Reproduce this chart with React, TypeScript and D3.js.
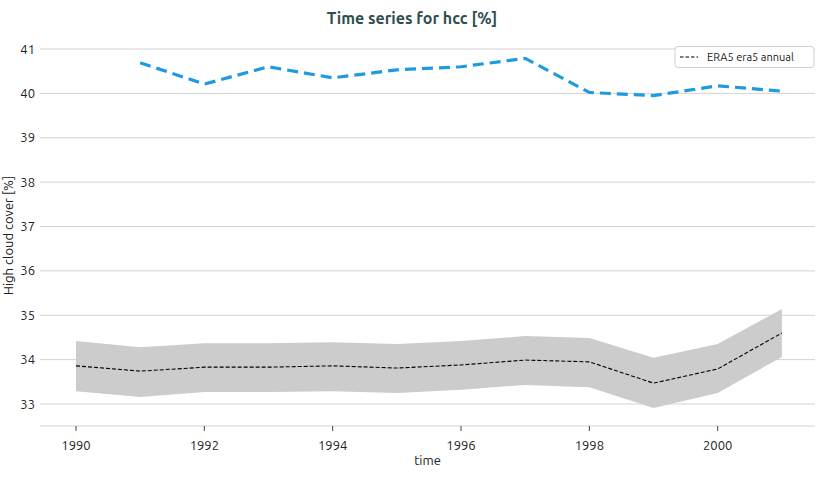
import React from "react";
import * as d3 from "d3";

const years = [1990, 1991, 1992, 1993, 1994, 1995, 1996, 1997, 1998, 1999, 2000, 2001];
const era5Mean = [33.86, 33.74, 33.83, 33.83, 33.86, 33.81, 33.88, 33.99, 33.95, 33.47, 33.79, 34.6];
const era5Upper = [34.42, 34.28, 34.37, 34.37, 34.39, 34.35, 34.42, 34.53, 34.49, 34.04, 34.35, 35.14];
const era5Lower = [33.29, 33.16, 33.27, 33.27, 33.29, 33.25, 33.32, 33.43, 33.38, 32.91, 33.25, 34.06];
const blueYears = [1991, 1992, 1993, 1994, 1995, 1996, 1997, 1998, 1999, 2000, 2001];
const blueValues = [40.69, 40.21, 40.6, 40.35, 40.53, 40.6, 40.79, 40.02, 39.95, 40.17, 40.05];
const yTicks = [33, 34, 35, 36, 37, 38, 39, 40, 41];
const xTicks = [1990, 1992, 1994, 1996, 1998, 2000];
const title = "Time series for hcc [%]";
const legendLabel = "ERA5 era5 annual";

const W = 825;
const H = 478;
const FONT = "Ubuntu, 'Open Sans', sans-serif";

export default function App() {
  const left = 40, right = 815, top = 35, bottom = 426;
  const x = d3.scaleLinear().domain([1990, 2000]).range([76, 717.7]);
  const y = d3.scaleLinear().domain([33, 41]).range([404, 49]);

  const band = d3
    .area<number>()
    .x((_, i) => x(years[i]))
    .y0((_, i) => y(era5Lower[i]))
    .y1((_, i) => y(era5Upper[i]));
  const meanLine = d3
    .line<number>()
    .x((_, i) => x(years[i]))
    .y((d) => y(d));
  const blueLine = d3
    .line<number>()
    .x((_, i) => x(blueYears[i]))
    .y((d) => y(d));

  return (
    <svg width={W} height={H} style={{ position: "absolute", left: 0, top: 0, background: "#fff" }} fontFamily={FONT}>
      <text x={412} y={24} textAnchor="middle" fontSize={16} fontWeight="bold" fill="#2f4f4f">
        {title}
      </text>
      {yTicks.map((t) => (
        <g key={t}>
          <line x1={left} x2={right} y1={y(t)} y2={y(t)} stroke="#d3d3d3" strokeWidth={1} />
          <text x={35} y={y(t)} dy="0.35em" textAnchor="end" fontSize={13} fill="#222">
            {t}
          </text>
        </g>
      ))}
      <path d={band(era5Mean) || ""} fill="#cccccc" />
      <path d={meanLine(era5Mean) || ""} fill="none" stroke="#000" strokeWidth={1.1} strokeDasharray="4 2" />
      <path d={blueLine(blueValues) || ""} fill="none" stroke="#1f9ae0" strokeWidth={3.2} strokeDasharray="11 6" />
      <line x1={left} x2={right} y1={bottom} y2={bottom} stroke="#d3d3d3" strokeWidth={1} />
      {xTicks.map((t) => (
        <g key={t}>
          <line x1={x(t)} x2={x(t)} y1={bottom} y2={bottom + 5} stroke="#444" strokeWidth={1} />
          <text x={x(t)} y={bottom + 19} dy="0.35em" textAnchor="middle" fontSize={13} fill="#222">
            {t}
          </text>
        </g>
      ))}
      <text x={(left + right) / 2} y={465} textAnchor="middle" fontSize={13} fill="#222">
        time
      </text>
      <text
        transform={`translate(13, ${(top + bottom) / 2 + 5}) rotate(-90)`}
        textAnchor="middle"
        fontSize={13}
        fill="#222"
      >
        High cloud cover [%]
      </text>
      <g>
        <rect x={675} y={46.5} width={139} height={21} rx={3} fill="#fff" stroke="#cfcfcf" />
        <line x1={680} x2={698} y1={57} y2={57} stroke="#000" strokeWidth={1.1} strokeDasharray="3.5 2" />
        <text x={707} y={57} dy="0.35em" fontSize={11} fill="#222">
          {legendLabel}
        </text>
      </g>
    </svg>
  );
}
